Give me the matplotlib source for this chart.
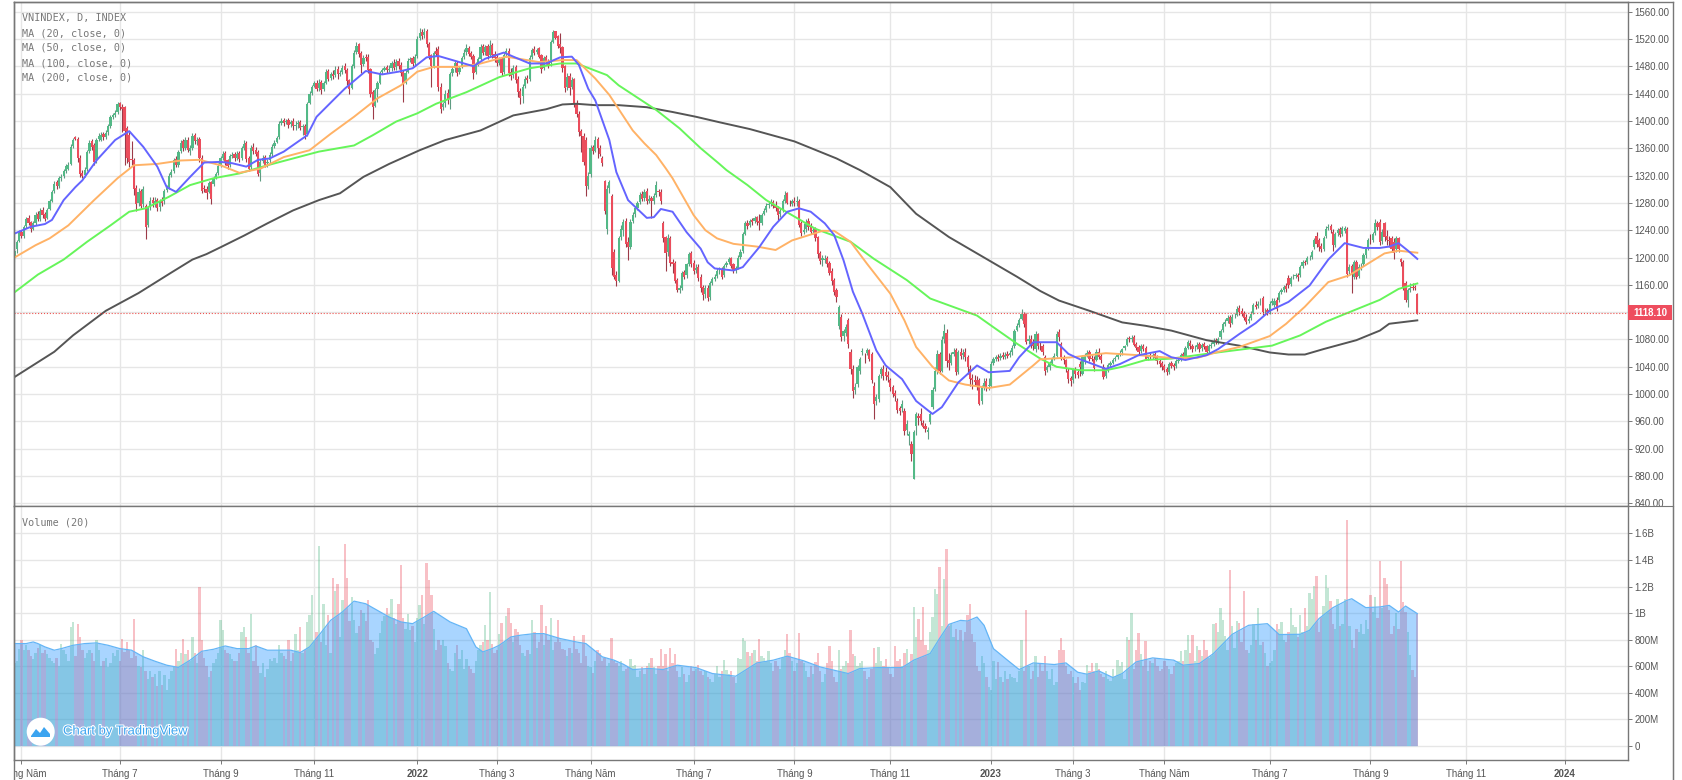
import numpy as np
import matplotlib
matplotlib.use("Agg")
import matplotlib.pyplot as plt
import matplotlib.patheffects as pe
from matplotlib.lines import Line2D
from matplotlib.patches import Circle, Polygon, Rectangle
from matplotlib.transforms import Bbox, IdentityTransform

#Candles, one row = 20 daily bars
closes = [
1210,1222,1236,1231,1245,1256,1250,1241,1250,1262,1256,1268,1262,1256,1270,1282,1296,1308,1304,1316,
1318,1326,1334,1336,1362,1372,1374,1345,1322,1320,1328,1355,1368,1362,1340,1372,1378,1380,1376,1382,
1392,1405,1409,1412,1424,1420,1418,1385,1345,1340,1342,1300,1278,1296,1276,1300,1245,1272,1282,1280,
1282,1272,1282,1280,1298,1302,1320,1325,1342,1335,1355,1368,1360,1372,1358,1360,1378,1370,1372,1345,
1298,1300,1295,1309,1286,1316,1322,1334,1345,1352,1340,1334,1348,1350,1345,1352,1344,1360,1366,1344,
1330,1360,1356,1352,1322,1340,1345,1336,1340,1350,1362,1368,1375,1396,1400,1397,1400,1394,1399,1392,
1394,1397,1390,1392,1380,1425,1440,1450,1455,1447,1456,1445,1455,1472,1462,1468,1466,1475,1468,1470,
1478,1474,1458,1446,1480,1500,1510,1498,1482,1492,1492,1475,1440,1420,1445,1455,1470,1474,1478,1474,
1476,1484,1478,1486,1480,1470,1455,1470,1488,1490,1483,1494,1520,1528,1524,1530,1512,1495,1480,1500,
1498,1450,1418,1425,1440,1430,1468,1476,1484,1470,1478,1492,1500,1506,1498,1494,1470,1482,1490,1508,
1500,1508,1495,1510,1496,1492,1484,1490,1470,1497,1502,1470,1466,1478,1460,1442,1434,1450,1462,1460,
1492,1504,1500,1504,1494,1476,1492,1486,1482,1515,1530,1522,1510,1506,1478,1448,1464,1448,1460,1425,
1410,1384,1378,1340,1305,1320,1360,1356,1372,1360,1352,1338,1268,1300,1310,1184,1172,1165,1228,1242,
1252,1220,1215,1252,1262,1272,1280,1292,1286,1296,1282,1286,1282,1290,1306,1296,1282,1228,1206,1228,
1192,1190,1165,1152,1155,1178,1172,1190,1205,1190,1180,1185,1170,1155,1145,1155,1140,1162,1168,1172,
1180,1182,1172,1188,1192,1198,1188,1182,1184,1200,1208,1234,1250,1246,1254,1252,1258,1252,1250,1262,
1268,1276,1278,1280,1275,1272,1262,1268,1282,1292,1280,1278,1282,1280,1282,1248,1236,1240,1252,1245,
1238,1240,1228,1205,1195,1200,1198,1190,1178,1165,1150,1142,1127,1083,1092,1098,1073,1037,1005,1010,
1039,1051,1063,1054,1064,1052,1020,986,996,1027,1037,1027,1027,1025,1010,1000,998,977,975,985,
946,956,941,912,945,971,965,961,952,949,947,971,1006,1034,1059,1034,1079,1093,1049,1045,
1058,1062,1032,1061,1056,1060,1054,1039,1022,1020,1018,1012,986,1010,1017,1011,1014,1044,1051,1054,
1052,1056,1055,1058,1056,1060,1068,1093,1100,1109,1118,1103,1076,1080,1073,1070,1088,1070,1070,1062,
1034,1039,1045,1052,1056,1088,1083,1054,1050,1037,1022,1019,1035,1030,1028,1040,1054,1056,1060,1052,
1052,1038,1062,1055,1050,1025,1035,1042,1045,1050,1053,1058,1060,1066,1070,1081,1080,1082,1072,1068,
1062,1070,1066,1052,1056,1054,1058,1053,1048,1044,1040,1036,1032,1044,1041,1040,1048,1050,1058,1056,
1067,1076,1070,1066,1068,1072,1066,1072,1069,1062,1070,1072,1078,1076,1080,1093,1102,1106,1112,1102,
1113,1115,1125,1120,1118,1112,1106,1110,1118,1130,1128,1132,1134,1120,1122,1120,1132,1136,1137,1125,
1148,1152,1157,1154,1160,1170,1172,1174,1172,1186,1193,1192,1199,1200,1208,1225,1220,1216,1212,1228,
1242,1245,1240,1218,1235,1240,1233,1243,1243,1176,1186,1178,1193,1172,1186,1188,1203,1213,1225,1225,
1235,1250,1245,1223,1238,1230,1225,1224,1213,1206,1228,1213,1193,1155,1138,1152,1156,1156,1155,1118,
]
opens = [
1200,1212,1224,1238,1232,1246,1258,1252,1242,1251,1264,1257,1270,1264,1258,1271,1283,1297,1310,1305,
1316,1319,1327,1330,1337,1363,1376,1374,1346,1323,1321,1330,1356,1370,1364,1342,1373,1372,1381,1377,
1383,1393,1406,1408,1413,1426,1421,1420,1390,1380,1344,1342,1302,1280,1298,1278,1275,1248,1274,1284,
1280,1284,1274,1284,1282,1299,1303,1321,1326,1344,1336,1356,1370,1361,1372,1356,1361,1380,1371,1373,
1346,1302,1301,1296,1310,1308,1317,1323,1335,1346,1353,1342,1335,1349,1351,1346,1353,1346,1361,1367,
1346,1332,1362,1358,1354,1324,1341,1347,1338,1342,1351,1363,1369,1376,1397,1401,1398,1401,1395,1400,
1393,1395,1398,1391,1393,1381,1426,1441,1451,1456,1448,1457,1446,1456,1473,1463,1469,1467,1476,1469,
1471,1480,1475,1460,1448,1481,1501,1512,1499,1483,1494,1493,1476,1442,1422,1446,1456,1471,1475,1479,
1475,1477,1485,1479,1487,1482,1471,1456,1472,1489,1492,1484,1495,1521,1530,1525,1532,1513,1496,1481,
1502,1505,1450,1420,1426,1441,1432,1470,1477,1485,1472,1480,1493,1501,1507,1499,1495,1472,1483,1491,
1509,1501,1509,1496,1511,1498,1493,1485,1491,1472,1498,1503,1472,1467,1479,1461,1444,1436,1451,1463,
1462,1493,1505,1501,1506,1496,1478,1493,1488,1484,1516,1531,1524,1512,1508,1480,1450,1465,1450,1461,
1425,1410,1385,1378,1372,1304,1322,1362,1356,1374,1361,1346,1312,1242,1302,1290,1208,1174,1166,1230,
1240,1254,1222,1216,1253,1263,1273,1281,1293,1287,1297,1283,1287,1283,1291,1298,1296,1250,1230,1208,
1228,1194,1192,1167,1153,1156,1179,1174,1191,1207,1192,1181,1186,1172,1157,1146,1156,1142,1163,1169,
1173,1181,1183,1174,1189,1193,1199,1190,1183,1185,1201,1210,1235,1251,1247,1255,1253,1259,1254,1251,
1263,1269,1277,1279,1281,1276,1273,1263,1269,1283,1294,1279,1279,1283,1281,1283,1250,1237,1241,1254,
1246,1239,1241,1230,1207,1196,1197,1199,1192,1180,1167,1152,1100,1113,1085,1090,1108,1061,1037,1006,
1015,1034,1062,1055,1060,1064,1059,1012,990,993,1030,1037,1033,1028,1020,1010,1001,990,979,979,
976,948,938,927,876,954,968,971,958,953,945,959,981,1008,1034,1059,1034,1080,1089,1050,
1046,1059,1064,1033,1062,1057,1061,1054,1037,1024,1021,1020,1020,990,1011,1019,1012,1012,1045,1052,
1055,1053,1057,1055,1059,1057,1061,1071,1094,1101,1110,1117,1117,1078,1081,1074,1066,1088,1071,1071,
1054,1035,1040,1046,1053,1056,1091,1073,1055,1050,1034,1024,1020,1036,1032,1044,1030,1050,1057,1061,
1053,1052,1050,1062,1056,1040,1027,1036,1043,1046,1051,1054,1059,1061,1067,1072,1082,1081,1083,1073,
1069,1063,1071,1068,1053,1057,1055,1059,1054,1049,1045,1041,1037,1033,1045,1042,1041,1049,1051,1059,
1055,1068,1075,1071,1067,1069,1073,1067,1073,1070,1063,1071,1073,1079,1077,1084,1094,1103,1107,1113,
1104,1114,1116,1126,1121,1119,1113,1107,1111,1119,1131,1129,1133,1140,1121,1123,1121,1133,1130,1138,
1138,1149,1153,1158,1170,1161,1171,1173,1175,1174,1187,1194,1193,1200,1201,1216,1232,1225,1217,1213,
1232,1243,1246,1238,1219,1236,1241,1234,1239,1242,1180,1187,1172,1193,1173,1187,1190,1204,1214,1226,
1226,1236,1251,1252,1224,1250,1231,1226,1228,1222,1213,1228,1198,1193,1162,1138,1153,1157,1157,1147,
]
highs = [
1214,1226,1240,1240,1248,1260,1262,1254,1254,1266,1268,1272,1274,1267,1272,1285,1299,1312,1314,1320,
1322,1330,1337,1340,1366,1375,1378,1376,1350,1328,1332,1358,1372,1374,1368,1375,1382,1384,1384,1386,
1396,1408,1412,1416,1428,1428,1424,1422,1392,1384,1370,1346,1306,1302,1300,1304,1278,1276,1288,1288,
1288,1287,1286,1288,1301,1306,1324,1330,1346,1348,1358,1372,1374,1376,1376,1364,1382,1382,1376,1376,
1350,1306,1304,1312,1312,1319,1325,1338,1348,1356,1356,1344,1351,1354,1354,1356,1356,1363,1372,1370,
1349,1364,1368,1362,1358,1344,1350,1350,1344,1354,1366,1372,1378,1400,1404,1404,1403,1404,1402,1404,
1400,1402,1402,1396,1396,1428,1443,1453,1459,1460,1462,1460,1459,1476,1476,1472,1474,1480,1480,1474,
1482,1484,1478,1462,1483,1504,1516,1514,1502,1496,1498,1498,1478,1445,1448,1458,1473,1478,1481,1482,
1482,1487,1490,1490,1492,1486,1474,1474,1492,1494,1495,1498,1524,1536,1534,1536,1535,1516,1498,1503,
1508,1510,1455,1428,1445,1447,1472,1480,1488,1488,1480,1495,1505,1512,1510,1503,1498,1486,1494,1512,
1512,1511,1512,1518,1514,1502,1498,1494,1494,1500,1506,1506,1478,1482,1482,1465,1448,1454,1465,1467,
1496,1507,1509,1507,1508,1498,1495,1496,1490,1518,1533,1532,1526,1528,1510,1482,1470,1470,1464,1463,
1430,1414,1388,1382,1376,1325,1365,1364,1378,1376,1364,1348,1314,1306,1314,1293,1212,1180,1232,1248,
1256,1258,1230,1256,1266,1276,1283,1296,1298,1300,1302,1292,1290,1294,1312,1300,1300,1254,1232,1235,
1232,1198,1195,1170,1160,1180,1182,1192,1208,1210,1196,1190,1190,1176,1160,1160,1160,1165,1172,1176,
1185,1186,1186,1191,1195,1201,1201,1192,1188,1203,1212,1237,1253,1255,1257,1258,1261,1261,1264,1265,
1272,1280,1282,1285,1284,1282,1276,1272,1285,1297,1296,1284,1286,1288,1290,1286,1254,1250,1256,1258,
1250,1244,1244,1232,1210,1204,1204,1202,1195,1184,1170,1156,1131,1118,1096,1102,1112,1066,1042,1016,
1042,1055,1068,1060,1068,1066,1062,1018,1000,1030,1040,1042,1040,1034,1024,1014,1006,994,982,992,
980,962,946,932,948,974,972,980,962,958,952,975,1010,1040,1065,1062,1085,1102,1096,1060,
1062,1068,1068,1064,1068,1066,1068,1058,1042,1030,1028,1026,1024,1014,1024,1024,1024,1048,1054,1058,
1059,1060,1061,1062,1063,1064,1072,1096,1104,1112,1124,1120,1119,1086,1086,1080,1092,1090,1076,1074,
1058,1042,1048,1055,1060,1092,1096,1076,1058,1052,1038,1026,1038,1040,1036,1048,1058,1060,1064,1064,
1058,1056,1066,1068,1060,1044,1038,1045,1048,1053,1056,1060,1064,1068,1072,1084,1085,1086,1086,1076,
1072,1073,1074,1070,1058,1060,1060,1062,1057,1052,1048,1044,1040,1047,1048,1046,1051,1054,1060,1062,
1070,1079,1079,1074,1072,1076,1076,1075,1076,1072,1073,1076,1082,1082,1084,1096,1106,1110,1116,1116,
1117,1119,1129,1130,1126,1122,1118,1114,1121,1134,1136,1136,1140,1144,1126,1126,1136,1140,1141,1142,
1151,1155,1160,1162,1174,1173,1176,1178,1177,1189,1196,1197,1202,1204,1211,1228,1238,1228,1221,1231,
1246,1249,1249,1242,1238,1243,1244,1246,1246,1245,1190,1190,1196,1197,1190,1192,1206,1216,1228,1234,
1238,1256,1254,1256,1242,1252,1240,1232,1232,1228,1232,1230,1200,1196,1165,1155,1162,1163,1160,1148,
]
lows = [
1193,1206,1222,1228,1229,1243,1247,1238,1240,1248,1253,1254,1258,1253,1256,1269,1281,1294,1300,1302,
1312,1316,1324,1328,1335,1360,1372,1340,1318,1316,1318,1327,1353,1358,1336,1338,1370,1370,1372,1374,
1380,1390,1403,1405,1410,1416,1384,1335,1338,1332,1335,1292,1268,1276,1272,1274,1227,1245,1270,1274,
1274,1268,1268,1276,1279,1296,1300,1318,1323,1332,1333,1353,1356,1358,1354,1350,1358,1366,1364,1340,
1294,1296,1286,1294,1278,1305,1315,1321,1332,1343,1336,1330,1332,1346,1341,1343,1340,1343,1358,1340,
1326,1330,1352,1348,1320,1312,1338,1332,1332,1338,1349,1361,1367,1374,1394,1392,1395,1390,1391,1387,
1386,1390,1386,1380,1373,1378,1424,1438,1449,1443,1444,1440,1444,1454,1458,1460,1462,1464,1462,1465,
1468,1470,1452,1440,1446,1478,1498,1494,1470,1480,1488,1470,1435,1403,1420,1428,1454,1469,1473,1470,
1472,1473,1474,1474,1476,1465,1428,1454,1470,1486,1480,1481,1492,1518,1520,1522,1508,1490,1450,1478,
1495,1444,1412,1416,1420,1425,1418,1465,1472,1466,1468,1478,1490,1497,1495,1490,1462,1468,1480,1488,
1496,1497,1490,1494,1492,1486,1480,1482,1466,1468,1494,1465,1460,1463,1456,1435,1424,1426,1448,1456,
1458,1490,1497,1498,1492,1470,1475,1483,1478,1480,1514,1520,1506,1500,1472,1442,1445,1438,1446,1420,
1405,1378,1355,1336,1290,1300,1318,1352,1354,1345,1348,1334,1264,1235,1295,1175,1168,1158,1164,1225,
1232,1215,1196,1212,1250,1260,1270,1278,1282,1282,1278,1280,1258,1278,1288,1290,1278,1222,1180,1202,
1188,1178,1162,1150,1148,1152,1168,1170,1188,1186,1176,1178,1166,1150,1138,1140,1136,1138,1160,1165,
1170,1176,1168,1172,1186,1190,1185,1178,1178,1183,1198,1206,1233,1242,1244,1248,1250,1248,1240,1248,
1262,1266,1273,1276,1272,1268,1255,1260,1266,1280,1278,1275,1276,1276,1276,1244,1232,1235,1238,1240,
1234,1234,1224,1200,1190,1188,1192,1186,1174,1160,1145,1135,1096,1078,1078,1085,1068,1030,995,1000,
1010,1030,1058,1046,1058,1048,1016,963,984,988,1024,1020,1020,1018,1004,996,990,973,970,974,
940,940,925,902,876,940,955,955,950,945,935,957,978,1004,1030,1030,1032,1075,1040,1035,
1042,1056,1028,1030,1052,1052,1048,1030,1012,1008,1012,1006,984,986,1006,1004,1006,1010,1042,1048,
1048,1050,1052,1052,1053,1054,1058,1068,1092,1098,1108,1098,1074,1073,1068,1064,1062,1066,1064,1058,
1028,1032,1036,1043,1050,1054,1078,1050,1044,1033,1016,1012,1016,1024,1024,1026,1028,1044,1054,1048,
1048,1034,1048,1052,1046,1022,1024,1033,1040,1044,1048,1052,1056,1058,1064,1070,1076,1076,1070,1064,
1058,1060,1063,1050,1050,1051,1052,1050,1044,1040,1036,1032,1028,1030,1038,1036,1038,1046,1048,1053,
1052,1066,1066,1062,1063,1066,1062,1063,1066,1058,1060,1068,1070,1073,1074,1080,1091,1100,1104,1098,
1102,1111,1114,1116,1114,1108,1103,1104,1108,1117,1124,1126,1130,1116,1117,1116,1118,1130,1127,1122,
1135,1146,1150,1150,1156,1158,1168,1170,1166,1172,1184,1189,1190,1196,1198,1212,1216,1210,1208,1210,
1228,1240,1236,1210,1216,1232,1230,1231,1236,1172,1176,1148,1168,1168,1170,1182,1188,1200,1211,1220,
1222,1233,1240,1218,1220,1224,1218,1216,1208,1198,1208,1208,1188,1152,1135,1128,1150,1152,1152,1118,
]
#Daily volume in millions
volumes = [
620,640,730,800,720,760,720,680,650,700,740,760,700,720,690,660,640,620,660,600,
770,720,690,640,895,930,680,920,820,720,660,700,720,700,640,800,720,600,640,660,
590,620,700,680,720,640,808,710,780,720,660,958,680,600,590,720,560,500,560,520,
540,450,560,460,530,420,500,560,600,730,640,700,808,690,720,640,820,700,620,1200,
795,660,600,520,560,620,650,700,945,870,720,700,690,650,640,640,700,858,895,820,
700,995,640,760,600,550,620,520,580,650,640,660,620,757,700,680,650,795,640,700,
845,720,895,700,720,930,983,1133,800,860,1502,780,1070,760,985,700,1264,1170,1220,820,
1095,1522,1264,940,1120,950,850,900,1020,1000,940,1095,800,780,690,740,850,940,980,1040,
990,1108,960,920,1065,1360,960,880,995,870,900,780,960,1058,1133,920,1377,1250,1133,880,
720,800,760,800,750,620,580,560,700,760,650,720,580,650,600,580,550,640,720,760,
780,908,800,1158,770,700,720,840,925,780,975,1038,925,780,878,858,760,700,680,720,
690,945,858,740,780,1063,760,900,800,965,720,780,945,780,730,720,680,740,700,825,
730,700,620,833,680,600,590,550,640,720,700,640,660,600,620,812,640,620,600,640,
560,580,590,652,600,607,520,560,590,540,600,620,665,590,540,600,732,600,690,560,
740,620,695,560,520,590,540,480,530,600,560,580,607,560,530,560,520,500,480,540,
602,520,560,645,570,540,560,520,470,665,650,812,788,707,680,700,720,640,808,680,
660,640,712,620,560,640,600,580,660,720,845,700,640,560,620,853,640,620,560,520,
600,540,632,700,560,480,540,620,752,640,520,480,725,580,600,640,620,870,695,675,
600,620,640,560,500,520,580,740,620,745,640,600,657,590,540,520,752,640,650,600,
700,732,620,695,1045,820,958,800,1045,760,720,860,970,1184,1146,1347,900,1259,1485,900,
920,820,880,800,870,790,860,983,1071,840,780,600,560,680,620,520,440,420,640,500,
630,520,480,560,500,540,520,510,480,560,800,560,1026,600,500,560,675,520,620,560,
680,560,500,580,460,480,720,812,720,600,540,560,520,470,520,420,480,470,607,560,
620,560,620,580,540,520,560,500,490,580,520,645,600,630,500,820,800,1000,580,720,
853,695,600,788,560,640,620,660,600,560,580,640,600,580,540,600,620,640,712,640,
725,833,700,833,640,752,720,680,795,720,660,680,920,925,855,1038,945,830,720,1322,
900,740,938,925,780,1164,720,700,760,920,800,1038,760,780,700,600,620,640,720,920,
880,933,800,780,860,1038,913,895,820,983,860,1038,900,1153,1108,1201,1276,860,970,1050,
1289,1188,1088,920,880,1103,900,920,1108,1703,900,800,740,880,860,920,840,950,880,1133,
1010,1120,960,1389,1040,1261,1221,1020,840,900,1000,880,1389,1083,1010,858,682,574,519,990,
]

#Moving averages: bar number, value
ma20_x = [0,7,13,16,21,26,29,35,43,49,55,61,65,69,75,81,88,93,99,104,109,115,125,129,136,141,150,157,164,170,176,181,190,196,201,209,213,220,227,233,238,241,245,248,254,257,262,270,273,276,281,287,293,296,299,307,311,318,324,330,335,340,346,350,354,358,362,368,372,379,385,392,396,403,411,416,425,429,435,445,450,455,466,472,480,489,494,500,509,514,523,530,536,544,553,561,568,576,583,587,591,595,599]
ma20_y = [1235,1245,1249,1255,1284,1303,1313,1342,1372,1385,1362,1333,1303,1296,1318,1339,1340,1338,1333,1343,1345,1355,1379,1406,1430,1447,1473,1468,1472,1477,1493,1495,1486,1480,1491,1500,1494,1484,1484,1493,1494,1482,1447,1430,1372,1325,1284,1258,1259,1271,1267,1237,1213,1193,1184,1181,1186,1215,1245,1267,1272,1267,1250,1233,1196,1150,1118,1064,1042,1022,990,971,981,1017,1042,1032,1034,1054,1076,1076,1059,1051,1037,1044,1057,1063,1054,1050,1057,1066,1088,1104,1122,1135,1159,1197,1221,1214,1214,1216,1221,1210,1198]
ma50_x = [0,9,15,23,34,44,51,61,71,79,88,96,105,115,126,135,145,155,165,172,179,189,198,210,224,234,240,248,254,259,264,269,274,278,281,285,290,295,300,307,317,325,332,345,350,357,364,374,380,385,392,399,406,416,425,435,438,452,466,480,494,505,514,523,536,543,551,561,570,577,585,591,599]
ma50_y = [1200,1218,1228,1247,1284,1316,1335,1337,1342,1343,1335,1324,1330,1347,1357,1381,1406,1433,1452,1472,1479,1479,1483,1494,1486,1489,1489,1462,1438,1412,1386,1367,1350,1331,1316,1292,1262,1240,1228,1220,1216,1211,1225,1239,1239,1223,1191,1147,1108,1069,1040,1020,1014,1009,1014,1042,1051,1054,1060,1057,1053,1053,1062,1069,1085,1103,1128,1164,1174,1189,1206,1210,1207]
ma100_x = [0,10,21,31,41,49,56,66,75,85,96,108,119,130,145,153,163,172,180,193,207,220,233,240,253,258,274,284,293,301,304,313,321,331,342,357,367,381,391,399,411,418,428,438,445,455,466,473,483,494,509,523,537,549,560,570,583,591,599]
ma100_y = [1149,1175,1197,1223,1247,1267,1272,1289,1306,1316,1323,1335,1345,1355,1364,1379,1399,1411,1425,1442,1464,1477,1484,1484,1467,1452,1416,1389,1360,1337,1328,1306,1284,1264,1242,1223,1198,1167,1140,1130,1115,1098,1074,1052,1040,1035,1035,1040,1050,1052,1059,1065,1071,1086,1106,1120,1138,1154,1162]
ma200_x = [0,17,25,39,46,53,60,67,76,82,88,98,108,119,130,139,149,160,173,184,199,213,227,234,240,248,258,270,281,291,301,314,333,351,361,374,385,399,414,428,438,446,459,473,483,494,509,523,536,544,551,559,573,583,587,599]
ma200_y = [1025,1062,1086,1122,1135,1148,1163,1178,1197,1205,1215,1232,1250,1269,1284,1294,1318,1337,1357,1372,1386,1408,1417,1424,1425,1423,1423,1420,1413,1406,1398,1388,1370,1345,1328,1303,1264,1230,1200,1172,1151,1137,1122,1105,1100,1093,1079,1071,1061,1058,1058,1066,1079,1093,1103,1108]
vol_ma_x = [0,5,8,10,13,17,20,25,30,35,40,45,50,55,60,65,70,75,80,85,90,95,100,103,108,113,118,122,126,130,135,140,145,150,155,160,165,170,175,179,186,193,197,200,204,207,212,216,222,226,233,240,244,251,256,260,264,271,277,283,291,298,308,317,324,330,337,344,350,356,361,369,379,384,391,395,399,404,407,411,414,418,424,429,435,444,449,454,458,463,469,473,479,486,495,499,506,512,520,527,535,540,549,553,557,563,569,571,577,583,587,591,594,599]
vol_ma_y = [770,770,782,770,745,720,732,757,770,775,757,732,720,670,637,607,590,645,712,727,752,732,732,752,720,720,720,702,745,832,945,1008,1090,1070,1020,970,933,920,970,1013,933,882,745,707,732,757,820,833,845,845,808,782,770,670,645,614,574,582,574,607,589,544,524,624,645,675,640,594,569,544,582,589,589,645,695,808,915,945,940,970,908,732,645,574,624,612,624,554,539,564,514,544,632,662,645,607,620,695,840,908,920,838,840,870,958,1041,1096,1108,1041,1046,1058,1008,1053,996]

#Tick labels and positions on the time scale
x_tick_bars = [3,45,88,128,172,206,246,290,333,374,417,452,491,536,579,620,662]
x_tick_labels = ["Tháng Năm","Tháng 7","Tháng 9","Tháng 11","2022","Tháng 3","Tháng Năm","Tháng 7","Tháng 9","Tháng 11","2023","Tháng 3","Tháng Năm","Tháng 7","Tháng 9","Tháng 11","2024"]
price_ticks = list(range(840,1561,40))
vol_ticks = [0,200,400,600,800,1000,1200,1400,1600]
vol_tick_labels = ["0","200M","400M","600M","800M","1B","1.2B","1.4B","1.6B"]
last_close = 1118.10

UP = "#53b987"
DOWN = "#eb4d5c"
TEXT = "#555555"
GRID = "#e6e6e6"
BORDER = "#777777"
W, H = 1683, 780

plt.rcParams["font.family"] = ["Liberation Sans", "DejaVu Sans"]

def pane(left, top, right, bottom, zorder):
    a = fig.add_axes([left/W, (H-bottom)/H, (right-left)/W, (bottom-top)/H], zorder=zorder)
    a.set_xlim(-0.2, 688.8)
    a.set_axisbelow(True)
    a.grid(True, color=GRID, lw=1.0)
    for s in a.spines.values():
        s.set_color(BORDER)
        s.set_linewidth(1.0)
    a.set_xticks(x_tick_bars)
    a.yaxis.tick_right()
    a.tick_params(colors=BORDER, labelcolor=TEXT, labelsize=7, length=3, width=0.7, pad=2)
    return a

fig = plt.figure(figsize=(W/100, H/100), dpi=100, facecolor="white")
ax = pane(14, 2, 1627.6, 505.5, 1)
ax2 = pane(14, 505.5, 1627.6, 759.5, 3)

#Strip right of the volume pane, it hides the bottom of the 840 label
strip = fig.add_axes([1627.6/W, 0, (1673-1627.6)/W, (H-505.5)/H], zorder=2)
strip.set_xticks([])
strip.set_yticks([])
for name, s in strip.spines.items():
    s.set_color(BORDER)
    s.set_visible(name in ("top", "right"))

bars = np.arange(len(closes))
o = np.array(opens)
c = np.array(closes)
h = np.array(highs)
l = np.array(lows)
v = np.array(volumes)
up = c >= o

#Price pane
ax.vlines(bars[up], l[up], h[up], color="#5f9c82", lw=0.8, zorder=3)
ax.vlines(bars[~up], l[~up], h[~up], color="#9c3a48", lw=0.8, zorder=3)
ax.bar(bars[up], (c-o)[up], bottom=o[up], width=0.95, color=UP, zorder=4)
ax.bar(bars[~up], (o-c)[~up], bottom=c[~up], width=0.95, color=DOWN, zorder=4)
ax.plot(ma200_x, ma200_y, color="#555555", lw=1.4, zorder=5)
ax.plot(ma100_x, ma100_y, color="#66f55a", lw=1.4, zorder=6)
ax.plot(ma50_x, ma50_y, color="#ffb266", lw=1.4, zorder=7)
ax.plot(ma20_x, ma20_y, color="#6464ff", lw=1.4, zorder=8)
ax.axhline(last_close, color="#ef5350", ls=":", lw=0.8, zorder=9)
ax.set_ylim(837, 1574)
ax.set_yticks(price_ticks)
ax.set_yticklabels(["%.2f" % p for p in price_ticks])
ax.tick_params(axis="x", length=0, labelbottom=False)

legend = ["VNINDEX, D, INDEX", "MA (20, close, 0)", "MA (50, close, 0)", "MA (100, close, 0)", "MA (200, close, 0)"]
for n, t in enumerate(legend):
    fig.text(22/W, 1-(18+15*n)/H, t, family="DejaVu Sans Mono", fontsize=7.3, color="#777777", va="center", zorder=10)
fig.text(22/W, 1-522.5/H, "Volume (20)", family="DejaVu Sans Mono", fontsize=7.3, color="#777777", va="center", zorder=10)

#Volume pane, bars touch each other like in the reference
ax2.bar(bars[up], v[up], width=1.0, color=UP, alpha=0.35, antialiased=False, lw=0, zorder=2)
ax2.bar(bars[~up], v[~up], width=1.0, color=DOWN, alpha=0.35, antialiased=False, lw=0, zorder=2)
ax2.fill_between(vol_ma_x, vol_ma_y, 0, color="#2996ff", alpha=0.4, lw=0, zorder=3)
ax2.plot(vol_ma_x, vol_ma_y, color="#64b5f6", lw=0.9, zorder=4)
ax2.set_ylim(-104, 1811)
ax2.set_yticks(vol_ticks)
ax2.set_yticklabels(vol_tick_labels)
ax2.set_xticklabels(x_tick_labels)
ax2.tick_params(axis="x", length=3, pad=4, labelsize=7)
clip = Bbox([[14, 0], [W, H]])
for lab in ax2.get_xticklabels():
    lab.set_clip_on(True)
    lab.set_clip_box(clip)
    if lab.get_text().isdigit():
        lab.set_fontweight("bold")

#Left and right frame lines run the full height
fig.add_artist(Line2D([14/W, 14/W], [0, 1-2/H], color=BORDER, lw=1.0, zorder=11))
fig.add_artist(Line2D([1673/W, 1673/W], [0, 1-2/H], color=BORDER, lw=1.0, zorder=11))
fig.add_artist(Line2D([14/W, 1673/W], [1-2/H, 1-2/H], color=BORDER, lw=1.0, zorder=11))

#Last price tag
px = IdentityTransform()
fig.add_artist(Rectangle((1628, H-320), 44, 14.7, transform=px, color="#ee4d5e", lw=0, zorder=12))
fig.text(1650/W, 1-312.6/H, "%.2f" % last_close, color="white", fontsize=7, fontweight="bold", ha="center", va="center", zorder=13)

#Watermark
fig.add_artist(Circle((40.7, H-731.7), 14, transform=px, color="white", lw=0, zorder=12))
hills = [(31, H-736), (36, H-729), (40, H-733), (44, H-727), (50, H-734), (50, H-737), (31, H-737)]
fig.add_artist(Polygon(hills, transform=px, color="#3ba4f0", lw=0, zorder=13))
fig.text(63/W, 1-731.5/H, "Chart by TradingView", color="#3ba4f0", fontsize=9.4, va="center", zorder=13,
         path_effects=[pe.withStroke(linewidth=1.5, foreground="white")])

fig.savefig("out.png", dpi=100)
